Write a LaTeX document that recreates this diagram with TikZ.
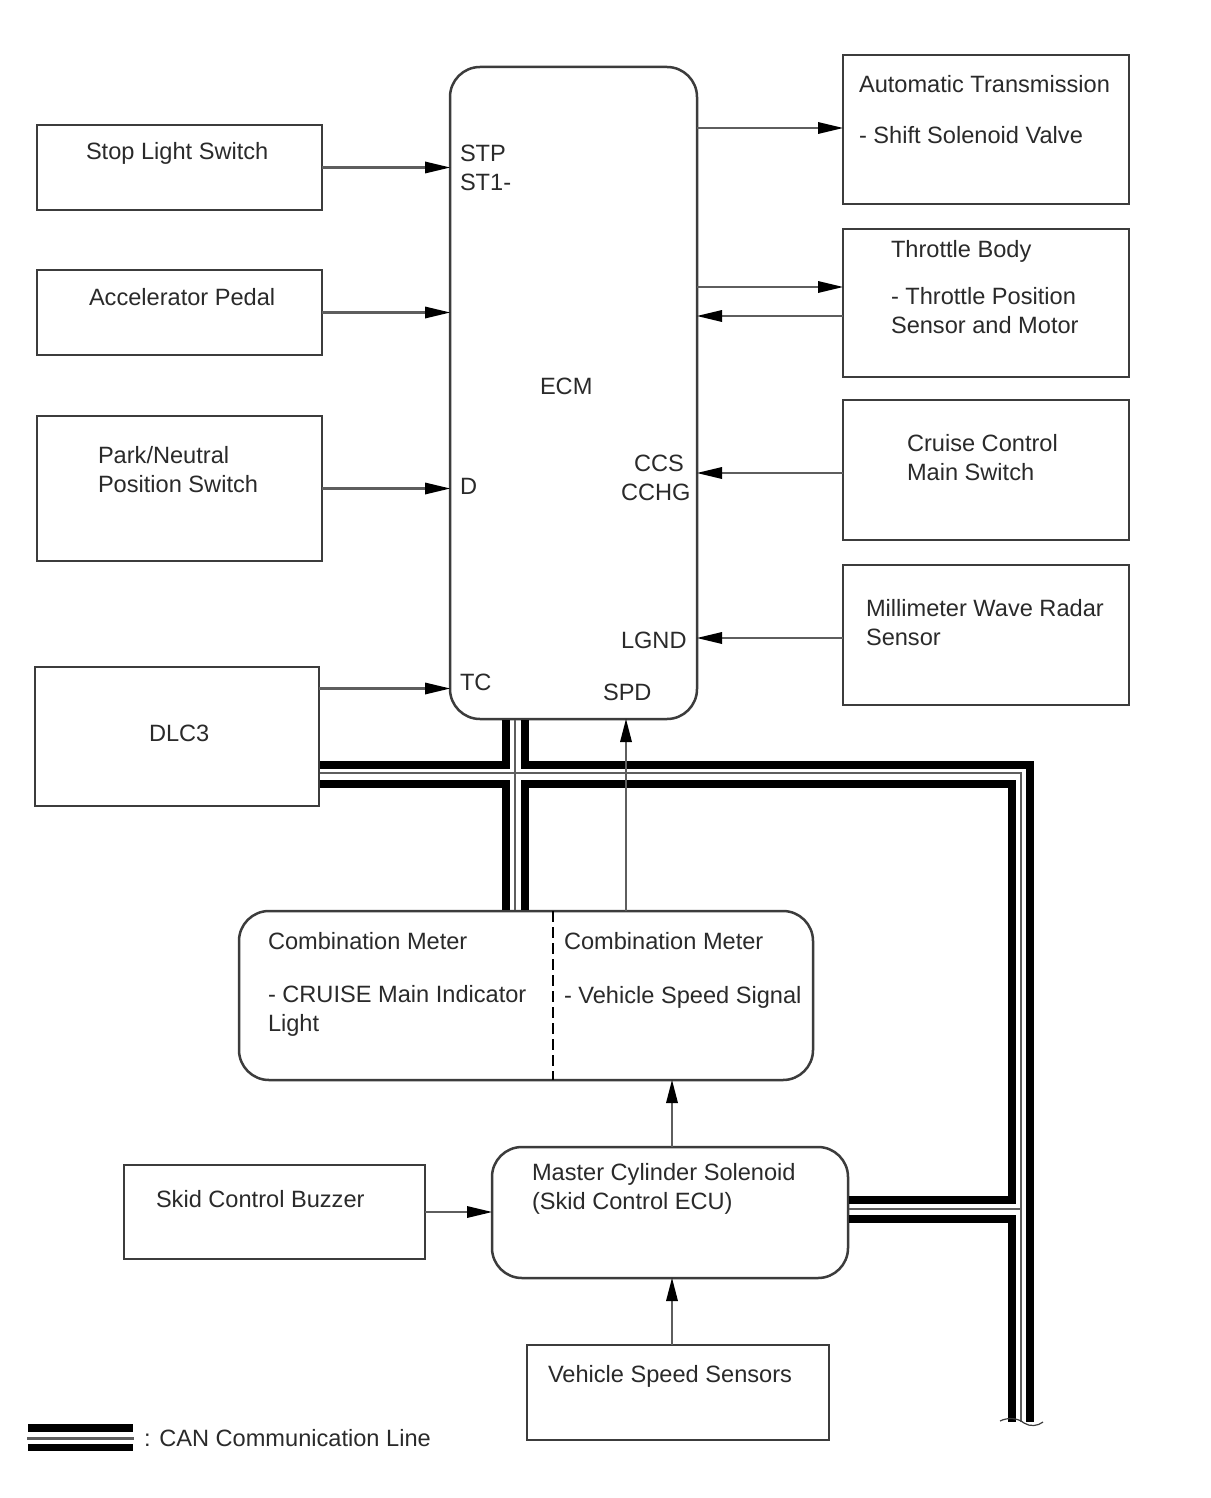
\documentclass[tikz,border=0pt]{standalone}
\usepackage{fontspec}
\setmainfont{Liberation Sans}
\usetikzlibrary{arrows.meta,positioning,calc}
\definecolor{ink}{HTML}{3C3C3C}
\definecolor{shaft}{HTML}{5E5E5E}
\definecolor{txt}{HTML}{2A2A2A}
\tikzset{
  sqbox/.style={draw=ink,line width=2.5pt,fill=white,inner sep=0pt,outer sep=0pt},
  rdbox/.style={sqbox,rounded corners=30pt},
  lab/.style={anchor=base west,inner sep=0pt,outer sep=0pt,text=txt,align=left,font=\fontsize{23.6}{28.5}\selectfont},
  arr/.style={draw=shaft,line width=2.6pt,-{Triangle[length=25pt,width=12pt,color=black,fill=black,line width=0pt]}},
  arrv/.style={draw=shaft,line width=2.6pt,-{Triangle[length=23pt,width=12pt,color=black,fill=black,line width=0pt]}},
  canthick/.style={draw=black,line width=7.5pt,line join=miter},
  canthin/.style={draw=shaft,line width=2.8pt},
}
\begin{document}
\begin{tikzpicture}[x=1pt,y=-1pt]
\useasboundingbox (0,0) rectangle (1210,1498);
% boxes
\newcommand{\mybox}[6]{\node[#2,minimum width=#5pt-#3pt,minimum height=#6pt-#4pt] (#1) at ({(#3+#5)/2},{(#4+#6)/2}) {};}
\mybox{stop}{sqbox}{37}{125}{322}{210}
\mybox{accel}{sqbox}{37}{270}{322}{355}
\mybox{park}{sqbox}{37}{416}{322}{561}
\mybox{dlc}{sqbox}{35}{667}{319}{806}
\mybox{ecm}{rdbox}{450}{67}{697}{719}
\mybox{at}{sqbox}{843}{55}{1129}{204}
\mybox{thr}{sqbox}{843}{229}{1129}{377}
\mybox{ccm}{sqbox}{843}{400}{1129}{540}
\mybox{rad}{sqbox}{843}{565}{1129}{705}
\mybox{meter}{rdbox}{239}{911}{813}{1080}
\mybox{buzz}{sqbox}{124}{1165}{425}{1259}
\mybox{mast}{rdbox}{492}{1147}{848}{1278}
\mybox{vss}{sqbox}{527}{1345}{829}{1440}
% CAN free ends and corners
\coordinate (canEndO) at (1030,1422);
\coordinate (canEndM) at (1021,1422);
\coordinate (canEndI) at (1012,1422);
\coordinate (canA) at (506,765);
\coordinate (canB) at (525,765);
\coordinate (canC) at (506,784);
\coordinate (canD) at (525,784);
\coordinate (canX) at (515,773);
\coordinate (canE) at (1030,765);
\coordinate (canF) at (1012,784);
\coordinate (canG) at (1021,773);
\coordinate (canH) at (1012,1200);
\coordinate (canI) at (1012,1219);
\coordinate (canJ) at (1021,1209);
% CAN bus
\draw[canthick] (dlc.east |- canA) -- (canA) -- (canA |- ecm.south);
\draw[canthick] (canB |- ecm.south) -- (canB) -- (canE) -- (canEndO);
\draw[canthick] (dlc.east |- canC) -- (canC) -- (canC |- meter.north);
\draw[canthick] (canD |- meter.north) -- (canD) -- (canF) -- (canH) -- (canH -| mast.east);
\draw[canthick] (canI -| mast.east) -- (canI) -- (canEndI);
\draw[canthin] (dlc.east |- canX) -- (canG) -- (canEndM);
\draw[canthin] (canX |- ecm.south) -- (canX |- meter.north);
\draw[canthin] (canJ -| mast.east) -- (canJ);
% torn end of the bus
\coordinate (tearL) at (1000,1421);
\coordinate (tearR) at (1043,1422);
\draw[draw=ink,line width=1.2pt] (tearL) .. controls (1008,1417) and (1018,1418) .. (1024,1423) .. controls (1030,1427) and (1038,1426) .. (tearR);
% redraw box edges over the bus
\draw[draw=ink,line width=2.5pt] (dlc.north east) -- (dlc.south east);
\draw[draw=ink,line width=2.5pt] (mast.east |- 848,1175) -- (mast.east |- 848,1250);
\draw[draw=ink,line width=2.5pt] (269,911) -- (783,911);
\draw[draw=ink,line width=2.5pt] (480,719) -- (667,719);
% divider
\coordinate (divT) at (553,911);
\coordinate (divB) at (553,1080);
\draw[draw=black,line width=2pt,dash pattern=on 11pt off 5pt] (divT) -- (divB);
% arrows
\draw[arr] (stop.east) -- (stop.east -| ecm.west);
\draw[arr] (accel.east) -- (accel.east -| ecm.west);
\draw[arr] (park.east) -- (park.east -| ecm.west);
\draw[arr] ([yshift=48pt]dlc.east) -- ([yshift=48pt]dlc.east -| ecm.west);
\draw[arr] (ecm.east |- 697,128) -- (at.west |- 697,128);
\draw[arr] (ecm.east |- 697,287) -- (thr.west |- 697,287);
\draw[arr] (thr.west |- 697,316) -- (ecm.east |- 697,316);
\draw[arr] (ccm.west |- 697,473) -- (ecm.east |- 697,473);
\draw[arr] (rad.west |- 697,638) -- (ecm.east |- 697,638);
\draw[arrv] (meter.north -| 626,0) -- (ecm.south -| 626,0);
\draw[arrv] (mast.north -| 672,0) -- (meter.south -| 672,0);
\draw[arrv] (vss.north -| 672,0) -- (mast.south -| 672,0);
\draw[arr] (buzz.east |- 425,1212) -- (mast.west |- 425,1212);
% labels (anchored at the baseline of the last line)
\node[lab] (tstop) at (86,160) {Stop Light Switch};
\node[lab] (taccel) at (89,305) {Accelerator Pedal};
\node[lab] (tpark) at (98,492) {Park/Neutral\\Position Switch};
\node[lab] (tdlc) at (149,741) {DLC3};
\node[lab] (tstp) at (460,190) {STP\\ST1-};
\node[lab] (tecm) at (540,394) {ECM};
\node[lab] (td) at (460,494) {D};
\node[lab] (ttc) at (460,690) {TC};
\node[lab] (tspd) at (603,700) {SPD};
\node[lab] (tccs) at (634,471) {CCS};
\node[lab] (tcchg) at (621,500) {CCHG};
\node[lab] (tlgnd) at (621,648) {LGND};
\node[lab] (tat) at (859,144) {Automatic Transmission\\[23pt]- Shift Solenoid Valve};
\node[lab] (tthr) at (891,333) {Throttle Body\\[19pt]- Throttle Position\\Sensor and Motor};
\node[lab] (tccm) at (907,480) {Cruise Control\\Main Switch};
\node[lab] (trad) at (866,645) {Millimeter Wave Radar\\Sensor};
\node[lab] (tml) at (268,1031) {Combination Meter\\[25pt]- CRUISE Main Indicator\\Light};
\node[lab] (tmr) at (564,1003) {Combination Meter\\[25pt]- Vehicle Speed Signal};
\node[lab] (tmast) at (532,1209) {Master Cylinder Solenoid\\(Skid Control ECU)};
\node[lab] (tbuzz) at (156,1207) {Skid Control Buzzer};
\node[lab] (tvss) at (548,1382) {Vehicle Speed Sensors};
% legend
\coordinate (legL) at (28,1428);
\coordinate (legR) at (133,1428);
\draw[canthick] (legL) -- (legR);
\draw[canthick] (28,1447.5) -- (133,1447.5);
\draw[canthin,line width=3pt] (27,1438) -- (134,1438);
\node[lab] (tleg) at (144,1446) {: CAN Communication Line};
\end{tikzpicture}
\end{document}
